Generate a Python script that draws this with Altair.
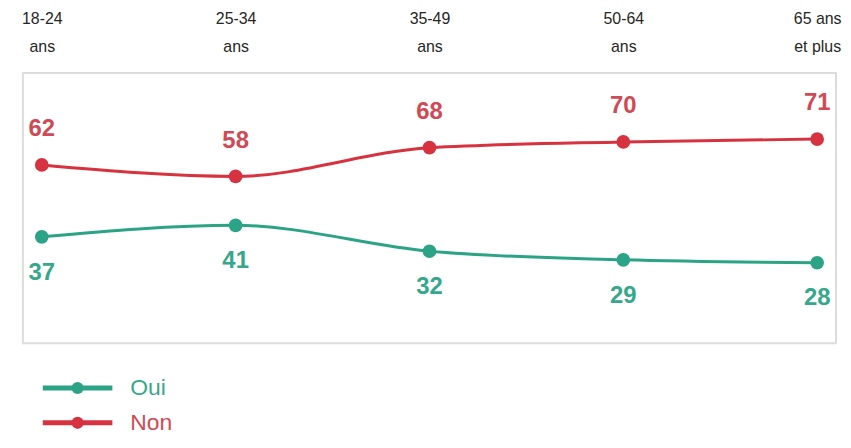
import altair as alt
import pandas as pd

categories = ["18-24|ans", "25-34|ans", "35-49|ans", "50-64|ans", "65 ans|et plus"]
oui = [37, 41, 32, 29, 28]
non = [62, 58, 68, 70, 71]
series = ["Oui", "Non"]
line_colors = ["#2ba386", "#d7323f"]
text_colors = ["#35a88b", "#cf4a55"]

rows = []
for c, o, n in zip(categories, oui, non):
    rows.append({"age": c, "serie": "Oui", "value": o})
    rows.append({"age": c, "serie": "Non", "value": n})
df = pd.DataFrame(rows)

narrow = "Liberation Sans Narrow, Arial Narrow, Liberation Sans, Arial"

x = alt.X(
    "age:N", sort=categories,
    scale=alt.Scale(type="point", padding=0.0974),
    axis=alt.Axis(orient="top", title=None, labelAngle=0, domain=False, ticks=False,
                  labelExpr="split(datum.label, '|')", labelFont=narrow, labelFontSize=16,
                  labelLineHeight=28, labelColor="#262626", labelPadding=47),
)
y = alt.Y("value:Q", scale=alt.Scale(domain=[0, 94]), axis=None)
color = alt.Color("serie:N", scale=alt.Scale(domain=series, range=line_colors), legend=None)

base = alt.Chart(df)
lines = base.mark_line(interpolate="monotone", strokeWidth=3).encode(x=x, y=y, color=color, detail="serie:N")
points = base.mark_circle(size=190, opacity=1).encode(x=x, y=y, color=color)
txt_non = base.transform_filter("datum.serie == 'Non'").mark_text(
    dy=-36, fontSize=24, fontWeight="bold", font="Liberation Sans", color=text_colors[1]
).encode(x=x, y=y, text="value:Q")
txt_oui = base.transform_filter("datum.serie == 'Oui'").mark_text(
    dy=36, fontSize=24, fontWeight="bold", font="Liberation Sans", color=text_colors[0]
).encode(x=x, y=y, text="value:Q")

main = alt.layer(lines, points, txt_non, txt_oui).properties(
    width=818, height=272,
    view=alt.ViewBackground(stroke="#dcdcdc", strokeWidth=2),
)

leg_df = pd.DataFrame({"serie": series})
ly = alt.Y("serie:N", sort=series, scale=alt.Scale(type="point", padding=0), axis=None)
lbase = alt.Chart(leg_df)
lrule = lbase.mark_rule(strokeWidth=5).encode(
    x=alt.value(20), x2=alt.value(90), y=ly,
    color=alt.Color("serie:N", scale=alt.Scale(domain=series, range=line_colors), legend=None))
lpt = lbase.mark_circle(size=150, opacity=1).encode(
    x=alt.value(55), y=ly,
    color=alt.Color("serie:N", scale=alt.Scale(domain=series, range=line_colors), legend=None))
ltxt = lbase.mark_text(align="left", baseline="middle", fontSize=23, font="Liberation Sans").encode(
    x=alt.value(108), y=ly, text="serie:N",
    color=alt.Color("serie:N", scale=alt.Scale(domain=series, range=text_colors), legend=None))
legend = alt.layer(lrule, lpt, ltxt).resolve_scale(color="independent").properties(
    width=300, height=35, view=alt.ViewBackground(strokeWidth=0))

chart = alt.vconcat(main, legend, spacing=45, bounds="flush").properties(
    padding={"left": 12, "top": 0, "right": 0, "bottom": 0}
).configure_view(strokeWidth=0)

chart.save("out.html", embed_options={"renderer": "svg", "actions": False})
